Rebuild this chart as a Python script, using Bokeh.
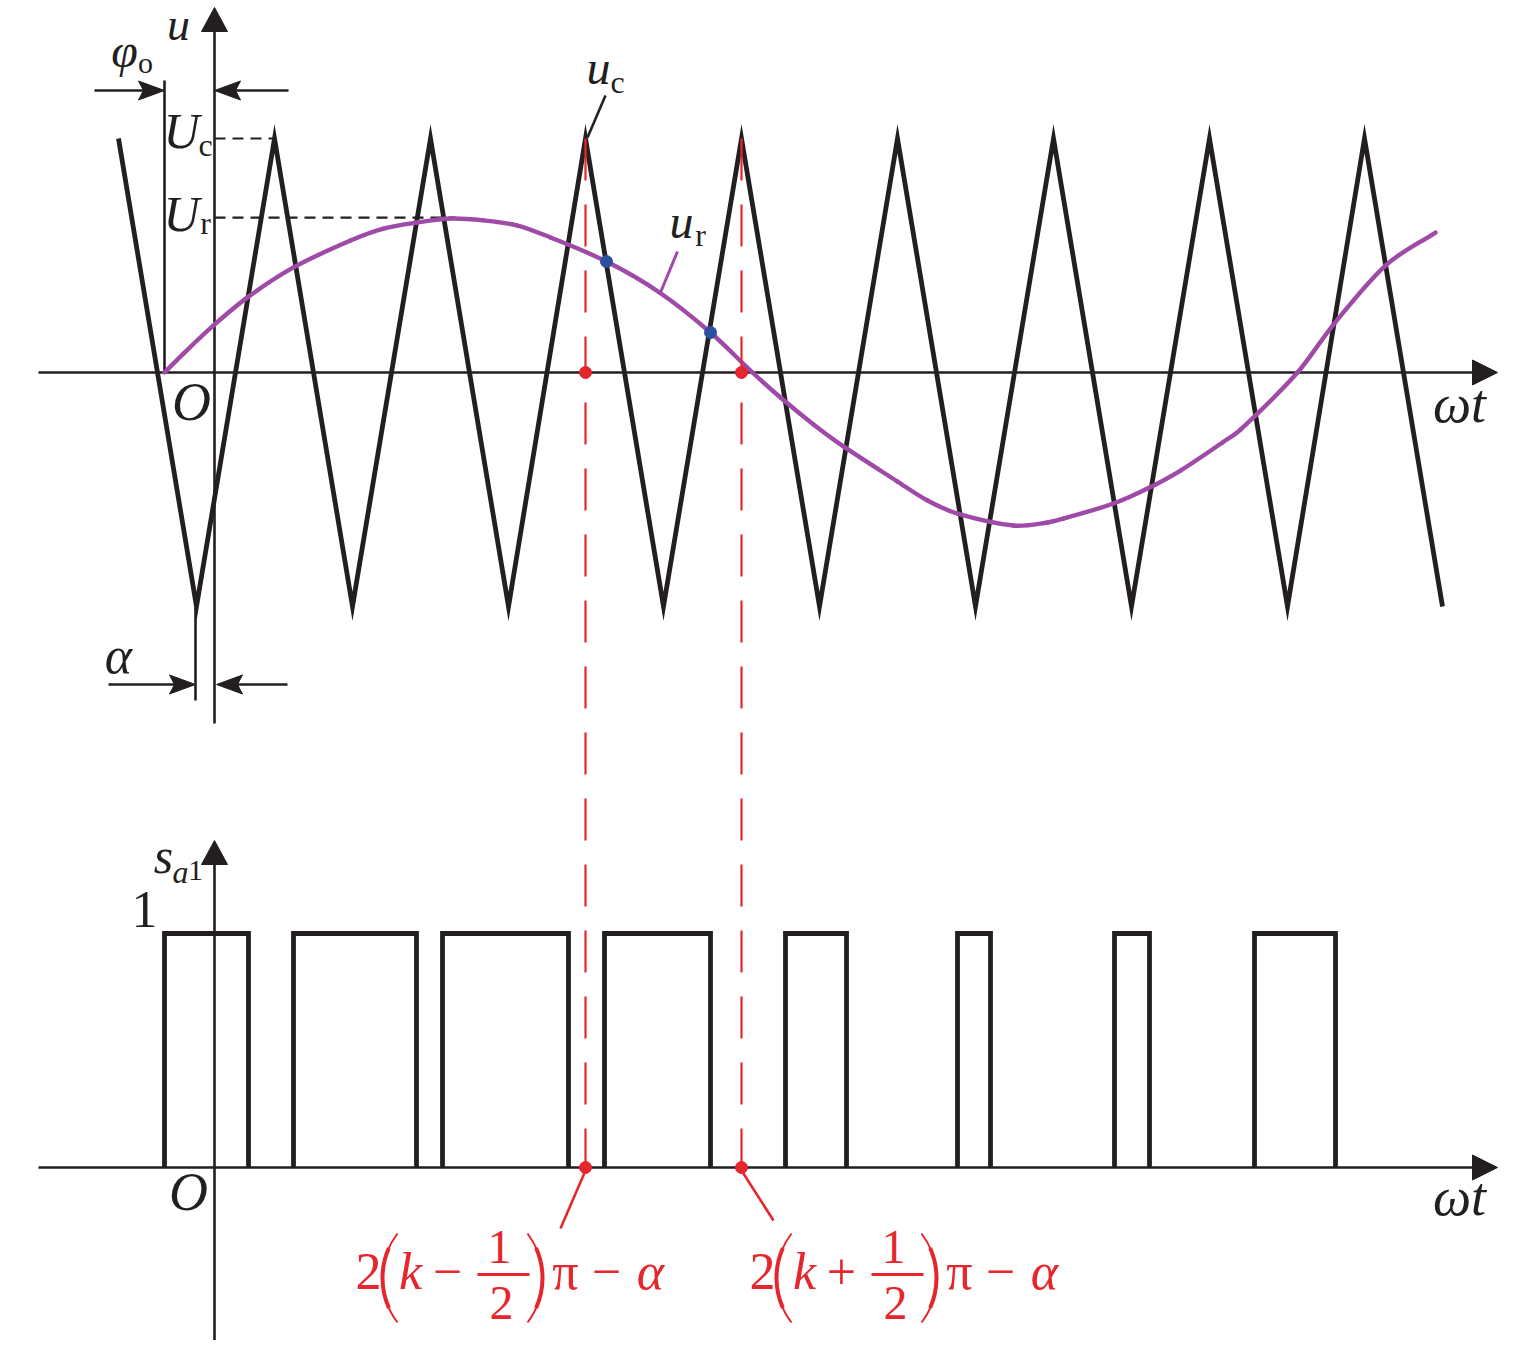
import math
from bokeh.plotting import figure
from bokeh.models import Range1d
from bokeh.embed import file_html
from bokeh.resources import INLINE
from bokeh.core.properties import value

# ---------------- data (x = wt, pixels from origin O; u in units of Uc; s in 0/1) ----------------
carrier_wt = [-96, -18, 60, 138, 216, 294, 371, 449, 527, 605, 683, 761, 839, 917, 995, 1073, 1150, 1228]
carrier_u = [1, -1, 1, -1, 1, -1, 1, -1, 1, -1, 1, -1, 1, -1, 1, -1, 1, -1]

ref_wt = [-50, -31, -1, 33, 79, 136, 169, 203, 236, 269, 303, 336, 392, 445, 496, 538, 566,
          599, 629, 683, 713, 743, 799, 833, 849, 899, 933, 966, 1008, 1026, 1083, 1119, 1171, 1221]
ref_u = [0.0, 0.081, 0.201, 0.321, 0.449, 0.564, 0.615, 0.641, 0.658, 0.650, 0.628, 0.577, 0.474, 0.342,
         0.171, 0.0, -0.107, -0.222, -0.316, -0.466, -0.547, -0.603, -0.654, -0.641, -0.624,
         -0.560, -0.496, -0.419, -0.299, -0.244, 0.0, 0.205, 0.457, 0.598]

Uc = 1.0
Ur = 0.662

pulse_on = [-50, 79, 228, 390, 571, 743, 900, 1040]
pulse_off = [34, 202, 354, 496, 632, 776, 935, 1121]

edge_wt = [371, 527]          # 2(k-1/2)pi - alpha , 2(k+1/2)pi - alpha
cross_wt = [392, 496]         # intersections of u_r and u_c
cross_u = [0.474, 0.171]

# ---------------- layout ----------------
W, H = 1527, 1340
M = 0                 # page offset of the canvas
OX = 214              # page x of origin
TOP_AXIS = 372        # page y of top-panel zero
BOT_AXIS = 1167       # page y of bottom-panel zero
AMP = 234             # pixels per unit

BLACK = "#231f20"
RED = "#e6262d"
PURPLE = "#a04aa8"
BLUE = "#2d4f9f"
FONT = value("Liberation Serif")
MID = 0.338           # em offset of the middle of the em box above the baseline


def X(px):
    return px - OX


def top_px(u):
    return TOP_AXIS - u * AMP


def bot_px(s):
    return BOT_AXIS - s * AMP


def panel_range(axis_px):
    end = (axis_px - M) / AMP
    return Range1d(start=end - H / AMP, end=end)


p = figure(width=W, height=H, output_backend="svg", toolbar_location=None,
           x_range=Range1d(M - OX, M + W - OX), y_range=Range1d(M + H, M),
           x_axis_type=None, y_axis_type=None, min_border=0)
p.outline_line_color = None
p.background_fill_color = "white"
p.border_fill_color = "white"
p.extra_y_ranges = {"top": panel_range(TOP_AXIS), "bot": panel_range(BOT_AXIS)}


def arrowhead(tip_x, tip_y, dx, dy, length, half, notch=0.0):
    nx, ny = -dy, dx
    bx, by = tip_x - length * dx, tip_y - length * dy
    xs = [tip_x, bx + half * nx, tip_x - (length - notch) * dx, bx - half * nx]
    ys = [tip_y, by + half * ny, tip_y - (length - notch) * dy, by - half * ny]
    return [X(v) for v in xs], ys


def txt(xp, base, s, size, italic=False, color=BLACK, align="center"):
    p.text(x=[X(xp)], y=[base - MID * size], text=[s], text_font=FONT,
           text_font_size=value(f"{size}px"),
           text_font_style="italic" if italic else "normal", text_color=color,
           text_align=align, text_baseline="middle")


# ---------------- axes ----------------
ax_x0 = [X(38), X(OX), X(38), X(OX)]
ax_y0 = [TOP_AXIS, 723, BOT_AXIS, 1345]
ax_x1 = [X(1476), X(OX), X(1476), X(OX)]
ax_y1 = [TOP_AXIS, 28, BOT_AXIS, 861]
p.segment(ax_x0, ax_y0, ax_x1, ax_y1, line_color=BLACK, line_width=2.6)

heads = [arrowhead(1497, TOP_AXIS, 1, 0, 25, 12.5),
         arrowhead(OX, 7, 0, -1, 24, 13),
         arrowhead(1497, BOT_AXIS, 1, 0, 25, 12.5),
         arrowhead(OX, 840, 0, -1, 24, 13)]
dim_heads = [arrowhead(164, 90, 1, 0, 26, 9.5, 5),
             arrowhead(OX, 90, -1, 0, 26, 9.5, 5),
             arrowhead(195, 684, 1, 0, 26, 9.5, 5),
             arrowhead(216, 684, -1, 0, 26, 9.5, 5)]
allh = heads + dim_heads
p.patches([h[0] for h in allh], [h[1] for h in allh], fill_color=BLACK, line_color=BLACK, line_width=1)

# dimension lines
p.segment([X(94), X(288), X(108), X(287), X(164), X(195)],
          [90, 90, 684, 684, 80, 607],
          [X(145), X(233), X(176), X(235), X(164), X(195)],
          [90, 90, 684, 684, TOP_AXIS, 700],
          line_color=BLACK, line_width=2.6)

# Uc, Ur dashed levels
p.segment([0, 0], [Uc, Ur], [carrier_wt[2], 241], [Uc, Ur], y_range_name="top",
          line_color=BLACK, line_width=2.2, line_dash="11 7")

# ---------------- carrier ----------------
p.line(carrier_wt, carrier_u, y_range_name="top", line_color=BLACK, line_width=4.8, line_join="miter")

# ---------------- reference wave: smooth (Hermite) curve through the read points ----------------
n = len(ref_wt)
slope = []
for i in range(n):
    a = max(i - 1, 0)
    d = min(i + 1, n - 1)
    slope.append((ref_u[d] - ref_u[a]) / (ref_wt[d] - ref_wt[a]))
bz = {k: [] for k in ("x0", "y0", "x1", "y1", "cx0", "cy0", "cx1", "cy1")}
for i in range(n - 1):
    h = (ref_wt[i + 1] - ref_wt[i]) / 3
    bz["x0"].append(ref_wt[i]); bz["y0"].append(ref_u[i])
    bz["x1"].append(ref_wt[i + 1]); bz["y1"].append(ref_u[i + 1])
    bz["cx0"].append(ref_wt[i] + h); bz["cy0"].append(ref_u[i] + slope[i] * h)
    bz["cx1"].append(ref_wt[i + 1] - h); bz["cy1"].append(ref_u[i + 1] - slope[i + 1] * h)
p.bezier(y_range_name="top", line_color=PURPLE, line_width=4.4, line_cap="round", **bz)

# leader lines for u_c and u_r
p.segment([X(605)], [95], [X(587)], [137], line_color=BLACK, line_width=2.6)
p.segment([X(677)], [251], [X(660)], [292], line_color=PURPLE, line_width=3)

# ---------------- switching function ----------------
p.multi_line([[a, a, b, b] for a, b in zip(pulse_on, pulse_off)],
             [[0, 1, 1, 0] for _ in pulse_on], y_range_name="bot",
             line_color=BLACK, line_width=4.8, line_join="miter")

# ---------------- red dashed projection lines ----------------
p.segment(edge_wt, [top_px(Uc)] * 2, edge_wt, [bot_px(0)] * 2,
          line_color=RED, line_width=2.2, line_dash="42 24")
p.segment([X(585), X(741)], [1170, 1170], [X(560), X(773)], [1228, 1220],
          line_color=RED, line_width=2.6)

p.scatter(edge_wt, [0, 0], y_range_name="top", size=12, fill_color=RED, line_color=RED)
p.scatter(edge_wt, [0, 0], y_range_name="bot", size=12, fill_color=RED, line_color=RED)
p.scatter(cross_wt, cross_u, y_range_name="top", size=12, fill_color=BLUE, line_color=BLUE)

# ---------------- texts ----------------
txt(178, 40, "u", 46, True)
txt(124, 66, "φ", 48, True)
txt(145, 72, "o", 30)
txt(181, 147, "U", 50, True)
txt(205, 155, "c", 32)
txt(181, 230, "U", 50, True)
txt(205, 233, "r", 32)
txt(191, 420, "O", 54, True)
txt(1459, 422, "ωt", 54, True)
txt(118, 673, "α", 52, True)
txt(598, 83, "u", 48, True)
txt(617, 92, "c", 32)
txt(681, 237, "u", 48, True)
txt(700, 245, "r", 32)

txt(163, 872, "s", 50, True)
txt(180, 882, "a", 32, True)
txt(195, 880, "1", 30)
txt(144, 927, "1", 52)
txt(188, 1210, "O", 54, True)
txt(1459, 1215, "ωt", 54, True)

R_PAREN = 73.5
HALF_ANG = math.asin(44.5 / R_PAREN)
for dx, sign in [(0, "−"), (394, "+")]:
    txt(368 + dx, 1289, "2", 52, color=RED)
    txt(410 + dx, 1289, "k", 52, True, RED)
    txt(447 + dx, 1289, sign, 52, color=RED)
    txt(499 + dx, 1263, "1", 48, color=RED)
    txt(501 + dx, 1319, "2", 48, color=RED)
    txt(565 + dx, 1289, "π", 52, color=RED)
    txt(606 + dx, 1289, "−", 52, color=RED)
    txt(650 + dx, 1289, "α", 52, True, RED)
    p.segment([X(477 + dx)], [1274], [X(529 + dx)], [1274], line_color=RED, line_width=2.8)
    # parentheses drawn as arcs
    cx = [X(382 + dx + R_PAREN), X(542 + dx - R_PAREN)]
    p.arc(x=cx, y=[1277.5, 1277.5], radius=R_PAREN,
          start_angle=[math.pi - HALF_ANG, -HALF_ANG], end_angle=[math.pi + HALF_ANG, HALF_ANG],
          line_color=RED, line_width=2.0)
    p.arc(x=cx, y=[1277.5, 1277.5], radius=R_PAREN,
          start_angle=[math.pi - 0.42, -0.42], end_angle=[math.pi + 0.42, 0.42],
          line_color=RED, line_width=4.0)

open("out.html", "w").write(file_html(p, INLINE))
